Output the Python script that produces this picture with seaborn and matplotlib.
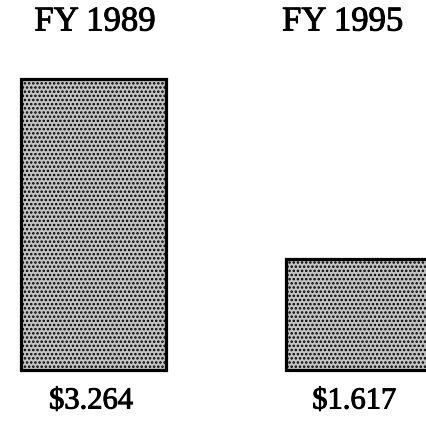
import matplotlib
matplotlib.use("Agg")
import matplotlib.pyplot as plt
import matplotlib.transforms as mtransforms
import matplotlib.patheffects as pe
import seaborn as sns
import pandas as pd

# Budget by fiscal year
years = ["FY 1989", "FY 1995"]
amounts = [3.264, 1.617]
amount_labels = ["$3.264", "$1.617"]

BASELINE = 0.6  # value axis starts here

sns.set_theme(style="white")
plt.rcParams["font.family"] = ["Liberation Serif", "DejaVu Serif"]
plt.rcParams["hatch.color"] = "black"
plt.rcParams["hatch.linewidth"] = 1.2

df = pd.DataFrame({"year": years, "amount": amounts})

fig = plt.figure(figsize=(4.27, 4.28), dpi=100)
ax = fig.add_axes([0.0, 0.1355, 1.0, 0.68])

sns.barplot(data=df, x="year", y="amount", ax=ax, width=0.547,
            color="#cfcfcf", edgecolor="black", linewidth=2.3,
            saturation=1.0)

for patch, val in zip(ax.patches, amounts):
    patch.set_y(BASELINE)
    patch.set_height(val - BASELINE)
    patch.set_hatch("....")
    patch.set_facecolor("#c4c4c4")
    patch.set_clip_on(False)

ax.set_xlim(-0.353, 1.258)
ax.set_ylim(BASELINE, max(amounts))
ax.axis("off")

ink = [pe.withStroke(linewidth=0.7, foreground="black")]
trans = mtransforms.blended_transform_factory(ax.transData, fig.transFigure)
title_shift = [0.006, -0.06]
label_shift = [-0.01, -0.017]
for i, (yr, lab) in enumerate(zip(years, amount_labels)):
    ax.text(i + title_shift[i], 1 - 22 / 428, yr, transform=trans,
            ha="center", va="center", fontsize=25, color="black",
            path_effects=ink)
    ax.text(i + label_shift[i], 1 - 401 / 428, lab, transform=trans,
            ha="center", va="center", fontsize=22, color="black",
            path_effects=ink)

fig.savefig("out.png", dpi=100)
